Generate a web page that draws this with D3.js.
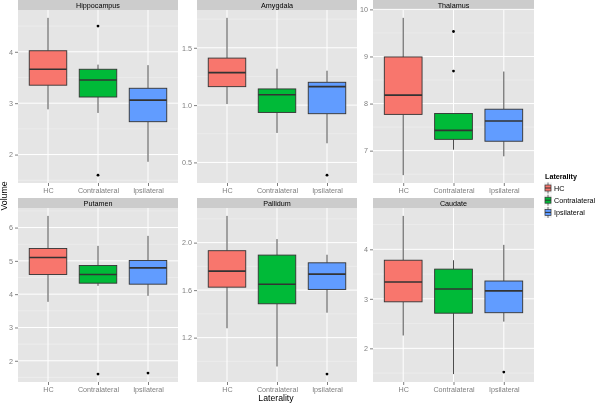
<!DOCTYPE html>
<html><head><meta charset="utf-8">
<script src="https://cdn.jsdelivr.net/npm/d3@7"></script>
<style>body{margin:0;background:#fff}svg{display:block;font-family:"Liberation Sans",Arial,sans-serif;will-change:transform}</style>
</head><body>
<script>
// ---- data ----
const regions = ["Hippocampus", "Amygdala", "Thalamus", "Putamen", "Pallidum", "Caudate"];
const groups = ["HC", "Contralateral", "Ipsilateral"];
const colors = ["#F8766D", "#00BA38", "#619CFF"];
// per group: [lower whisker, Q1, median, Q3, upper whisker]
const hippocampus = [[2.88, 3.35, 3.66, 4.02, 4.66], [2.81, 3.12, 3.45, 3.66, 3.75], [1.86, 2.64, 3.06, 3.29, 3.74]];
const amygdala    = [[1.009, 1.161, 1.283, 1.41, 1.761], [0.757, 0.936, 1.09, 1.141, 1.317], [0.667, 0.925, 1.161, 1.199, 1.30]];
const thalamus    = [[6.48, 7.77, 8.18, 8.99, 9.82], [7.02, 7.24, 7.43, 7.79, 7.79], [6.88, 7.20, 7.63, 7.88, 8.68]];
const putamen     = [[3.77, 4.59, 5.10, 5.37, 6.35], [4.25, 4.33, 4.59, 4.86, 5.45], [3.95, 4.30, 4.79, 5.01, 5.75]];
const pallidum    = [[1.279, 1.625, 1.76, 1.932, 2.225], [0.957, 1.485, 1.65, 1.895, 2.03], [1.41, 1.606, 1.735, 1.83, 1.898]];
const caudate     = [[2.26, 2.94, 3.34, 3.78, 4.675], [1.48, 2.71, 3.20, 3.60, 3.78], [2.54, 2.72, 3.16, 3.36, 4.09]];
const hippocampusOut = [[], [4.50, 1.60], []];
const amygdalaOut    = [[], [], [0.389]];
const thalamusOut    = [[], [9.53, 8.69], []];
const putamenOut     = [[], [1.60], [1.63]];
const pallidumOut    = [[], [], [0.893]];
const caudateOut     = [[], [], [1.52]];
const hippocampusTicks = [2, 3, 4];
const amygdalaTicks    = [0.5, 1.0, 1.5];
const thalamusTicks    = [7, 8, 9, 10];
const putamenTicks     = [2, 3, 4, 5, 6];
const pallidumTicks    = [1.2, 1.6, 2.0];
const caudateTicks     = [2, 3, 4];
const tickFormats = [",d", ".1f", ",d", ",d", ".1f", ",d"];

const stats = [hippocampus, amygdala, thalamus, putamen, pallidum, caudate];
const outs = [hippocampusOut, amygdalaOut, thalamusOut, putamenOut, pallidumOut, caudateOut];
const ticks = [hippocampusTicks, amygdalaTicks, thalamusTicks, putamenTicks, pallidumTicks, caudateTicks];

// ---- layout ----
const W = 600, H = 403;
const cols = [[18, 178], [197, 357], [373, 534]];
const rows = [{s0: 0, y0: 10, y1: 183}, {s0: 198, y0: 208, y1: 382}];

const svg = d3.select("body").append("svg").attr("width", W).attr("height", H);

regions.forEach((name, i) => {
  const c = cols[i % 3], r = rows[Math.floor(i / 3)];
  const st = stats[i], ou = outs[i];
  const all = st.flat().concat(ou.flat());
  const lo = d3.min(all), hi = d3.max(all), pad = (hi - lo) * 0.05;
  const y = d3.scaleLinear().domain([lo - pad, hi + pad]).range([r.y1, r.y0]);
  const x = d3.scalePoint().domain(groups).range([c[0], c[1]]).padding(0.6);
  const bw = x.step() * 0.75;
  const g = svg.append("g");

  // strip
  g.append("rect").attr("x", c[0]).attr("y", r.s0).attr("width", c[1] - c[0]).attr("height", r.y0 - r.s0).attr("fill", "#CCCCCC");
  g.append("text").attr("x", (c[0] + c[1]) / 2).attr("y", (r.s0 + r.y0) / 2 + 2.6)
    .attr("text-anchor", "middle").attr("font-size", 7.2).attr("fill", "#000").text(name);
  // panel
  g.append("rect").attr("x", c[0]).attr("y", r.y0).attr("width", c[1] - c[0]).attr("height", r.y1 - r.y0).attr("fill", "#E5E5E5");
  // minor grid
  const tk = ticks[i], step = tk[1] - tk[0];
  const minor = [];
  for (let v = tk[0] - step / 2; v <= y.domain()[1]; v += step) if (v >= y.domain()[0]) minor.push(v);
  g.selectAll(".mn").data(minor).enter().append("line")
    .attr("x1", c[0]).attr("x2", c[1]).attr("y1", d => y(d)).attr("y2", d => y(d))
    .attr("stroke", "#F2F2F2").attr("stroke-width", 0.5);
  // major grid
  g.selectAll(".mj").data(tk).enter().append("line")
    .attr("x1", c[0]).attr("x2", c[1]).attr("y1", d => y(d)).attr("y2", d => y(d))
    .attr("stroke", "#FFFFFF").attr("stroke-width", 1);
  g.selectAll(".vx").data(groups).enter().append("line")
    .attr("x1", d => x(d)).attr("x2", d => x(d)).attr("y1", r.y0).attr("y2", r.y1)
    .attr("stroke", "#FFFFFF").attr("stroke-width", 1);

  // y axis
  const ya = d3.axisLeft(y).tickValues(tk).tickSize(3).tickPadding(2).tickFormat(d3.format(tickFormats[i]));
  const yg = g.append("g").attr("transform", `translate(${c[0]},0)`).call(ya);
  yg.select(".domain").remove();
  yg.selectAll("line").attr("stroke", "#7F7F7F");
  yg.selectAll("text").attr("fill", "#7F7F7F").attr("font-size", 7.2).attr("font-family", "Liberation Sans, Arial, sans-serif");
  // x axis
  const xa = d3.axisBottom(x).tickSize(3).tickPadding(2);
  const xg = g.append("g").attr("transform", `translate(0,${r.y1})`).call(xa);
  xg.select(".domain").remove();
  xg.selectAll("line").attr("stroke", "#7F7F7F");
  xg.selectAll("text").attr("fill", "#7F7F7F").attr("font-size", 7.2).attr("font-family", "Liberation Sans, Arial, sans-serif");

  // boxes
  groups.forEach((grp, j) => {
    const s = st[j], cx = x(grp);
    g.append("line").attr("x1", cx).attr("x2", cx).attr("y1", y(s[3])).attr("y2", y(s[4])).attr("stroke", "#4D4D4D").attr("stroke-width", 1);
    g.append("line").attr("x1", cx).attr("x2", cx).attr("y1", y(s[1])).attr("y2", y(s[0])).attr("stroke", "#4D4D4D").attr("stroke-width", 1);
    g.append("rect").attr("x", cx - bw / 2).attr("y", y(s[3])).attr("width", bw).attr("height", y(s[1]) - y(s[3]))
      .attr("fill", colors[j]).attr("stroke", "#333333").attr("stroke-width", 0.9);
    g.append("line").attr("x1", cx - bw / 2).attr("x2", cx + bw / 2).attr("y1", y(s[2])).attr("y2", y(s[2]))
      .attr("stroke", "#333333").attr("stroke-width", 1.6);
    g.selectAll(null).data(ou[j]).enter().append("circle")
      .attr("cx", cx).attr("cy", d => y(d)).attr("r", 1.4).attr("fill", "#000");
  });
});

// axis titles
svg.append("text").attr("x", 276).attr("y", 401).attr("text-anchor", "middle").attr("font-size", 8.7).text("Laterality");
svg.append("text").attr("transform", "translate(7,196) rotate(-90)").attr("text-anchor", "middle").attr("font-size", 8.7).text("Volume");

// legend
const lg = svg.append("g");
lg.append("text").attr("x", 545).attr("y", 178.5).attr("font-size", 7.2).attr("font-weight", "bold").text("Laterality");
groups.forEach((grp, j) => {
  const cy = 188 + j * 12.2;
  lg.append("rect").attr("x", 544).attr("y", cy - 5.5).attr("width", 8).attr("height", 11).attr("fill", "#F2F2F2");
  lg.append("line").attr("x1", 548).attr("x2", 548).attr("y1", cy - 5.5).attr("y2", cy + 5.5).attr("stroke", "#4D4D4D").attr("stroke-width", 0.8);
  lg.append("rect").attr("x", 545).attr("y", cy - 3).attr("width", 6).attr("height", 6).attr("fill", colors[j]).attr("stroke", "#333333").attr("stroke-width", 0.7);
  lg.append("line").attr("x1", 545).attr("x2", 551).attr("y1", cy).attr("y2", cy).attr("stroke", "#333333").attr("stroke-width", 1);
  lg.append("text").attr("x", 554).attr("y", cy + 2.6).attr("font-size", 7.2).text(grp);
});
</script>
</body></html>
